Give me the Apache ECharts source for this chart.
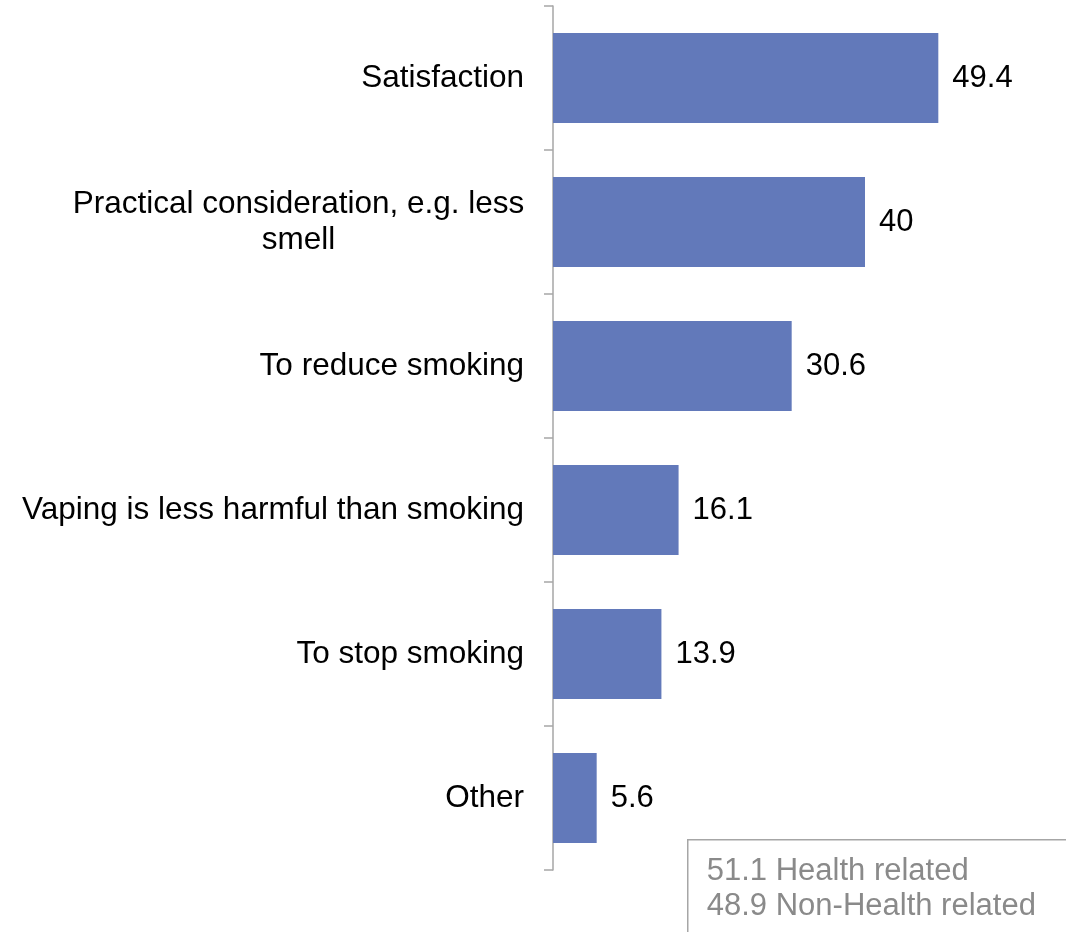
<!DOCTYPE html>
<html>
<head>
<meta charset="utf-8">
<style>
  html, body { margin: 0; padding: 0; background: #ffffff; }
  #chart { width: 1066px; height: 932px; }
</style>
<script src="https://cdn.jsdelivr.net/npm/echarts@6/dist/echarts.min.js"></script>
</head>
<body>
<div id="chart"></div>
<script>
// Reasons given for vaping (%)
const reasons = [
  'Satisfaction',
  'Practical consideration, e.g. less\nsmell',
  'To reduce smoking',
  'Vaping is less harmful than smoking',
  'To stop smoking',
  'Other'
];
const shares = [49.4, 40, 30.6, 16.1, 13.9, 5.6];

// Summary box: grouped totals
const groupValues = [51.1, 48.9];
const groupNames = ['Health related', 'Non-Health related'];

const FONT = '"Liberation Sans", Arial, sans-serif';

const chart = echarts.init(document.getElementById('chart'));

chart.setOption({
  animation: false,
  backgroundColor: '#ffffff',
  grid: { left: 553, right: 45, top: 6, bottom: 62, containLabel: false },
  xAxis: {
    type: 'value',
    min: 0,
    max: 60,
    show: false
  },
  yAxis: {
    type: 'category',
    inverse: true,
    data: reasons,
    axisLine: { show: true, lineStyle: { color: '#a6a6a6', width: 1.5 } },
    axisTick: { show: true, alignWithLabel: false, length: 9, lineStyle: { color: '#a6a6a6', width: 1.5 } },
    axisLabel: {
      margin: 29,
      color: '#000000',
      fontFamily: FONT,
      fontSize: 31.5,
      lineHeight: 36,
      align: 'right',
      // multi-line labels: lines centred within the right-aligned block
      formatter: function (v) {
        if (v.indexOf('\n') < 0) return v;
        return v.split('\n').map(function (s) { return '{c|' + s + '}'; }).join('\n');
      },
      rich: {
        c: {
          width: 451,
          align: 'center',
          color: '#000000',
          fontFamily: FONT,
          fontSize: 31.5,
          lineHeight: 36
        }
      }
    },
    splitLine: { show: false }
  },
  series: [{
    type: 'bar',
    data: shares,
    barWidth: 90,
    itemStyle: { color: '#6279ba' },
    label: {
      show: true,
      position: 'right',
      distance: 14,
      color: '#000000',
      fontFamily: FONT,
      fontSize: 31
    }
  }],
  graphic: [{
    type: 'group',
    left: 687,
    top: 839,
    children: [
      {
        type: 'rect',
        shape: { x: 0, y: 0, width: 420, height: 140 },
        style: { fill: '#ffffff', stroke: '#a6a6a6', lineWidth: 1.5 }
      },
      {
        type: 'text',
        x: 19,
        y: 14,
        style: {
          text: groupValues.map(function (v, i) { return v + ' ' + groupNames[i]; }).join('\n'),
          fill: '#8a8a8a',
          font: '31px ' + FONT,
          lineHeight: 35
        }
      }
    ]
  }]
});
</script>
</body>
</html>
